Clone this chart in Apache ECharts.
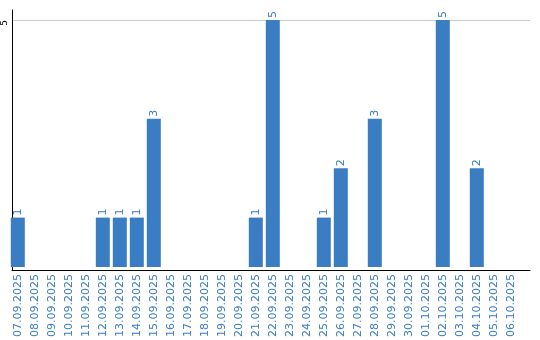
<!DOCTYPE html>
<html><head><meta charset="utf-8">
<script src="https://cdn.jsdelivr.net/npm/echarts@6/dist/echarts.min.js"></script>
<style>html,body{margin:0;padding:0;background:#fff}#c{width:540px;height:340px}</style>
</head><body><div id="c"></div>
<script>
const categories = ["07.09.2025","08.09.2025","09.09.2025","10.09.2025","11.09.2025","12.09.2025","13.09.2025","14.09.2025","15.09.2025","16.09.2025","17.09.2025","18.09.2025","19.09.2025","20.09.2025","21.09.2025","22.09.2025","23.09.2025","24.09.2025","25.09.2025","26.09.2025","27.09.2025","28.09.2025","29.09.2025","30.09.2025","01.10.2025","02.10.2025","03.10.2025","04.10.2025","05.10.2025","06.10.2025"];
const values = [1,0,0,0,0,1,1,1,3,0,0,0,0,0,1,5,0,0,1,2,0,3,0,0,0,5,0,2,0,0];
const yTicks = [5];
const blue = '#3a7dc2';
const chart = echarts.init(document.getElementById('c'), null, {renderer:'canvas'});
chart.setOption({
  animation:false,
  textStyle:{fontFamily:'DejaVu Sans'},
  grid:[
    {left:10, right:10, top:10, bottom:70, containLabel:false},
    {left:9.3, width:510, top:10, bottom:70, containLabel:false}
  ],
  xAxis:[
    {gridIndex:0, type:'value', min:0, max:1, axisLine:{show:true,onZero:false,lineStyle:{color:'#000',width:1}}, axisTick:{show:false}, axisLabel:{show:false}, splitLine:{show:false}},
    {gridIndex:1, type:'category', data:categories, axisLine:{show:false}, axisTick:{show:false},
     axisLabel:{interval:0, rotate:90, color:blue, fontSize:11, margin:7, fontFamily:'DejaVu Sans'}}
  ],
  yAxis:[
    {gridIndex:0, type:'value', min:0, max:5.2, interval:5,
     axisLine:{show:true, lineStyle:{color:'#000',width:1}}, axisTick:{show:false},
     axisLabel:{rotate:90, fontSize:9, color:'#000', margin:3, align:'center', padding:[0,6,0,0], formatter:v=>yTicks.includes(v)?String(v):''},
     splitLine:{show:true, showMinLine:false, showMaxLine:false, lineStyle:{color:'#cccccc',width:1}}},
    {gridIndex:1, type:'value', min:0, max:5.2, show:false}
  ],
  series:[{
    type:'bar', xAxisIndex:1, yAxisIndex:1, data:values, barWidth:14,
    itemStyle:{color:blue},
    label:{show:true, position:'top', rotate:90, align:'left', verticalAlign:'middle', distance:2, fontSize:11, color:blue,
      formatter:p=>p.value>0?String(p.value):''}
  }]
});
</script></body></html>
